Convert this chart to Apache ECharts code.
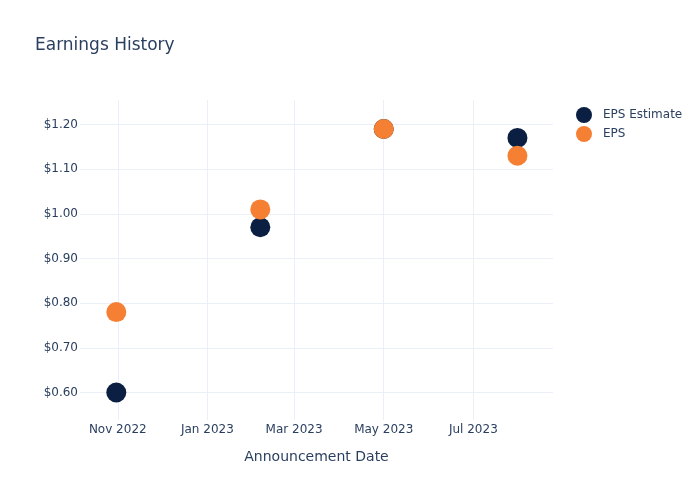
<!DOCTYPE html>
<html>
<head>
<meta charset="utf-8">
<script src="https://cdn.jsdelivr.net/npm/echarts@6/dist/echarts.min.js"></script>
<style>html,body{margin:0;padding:0;background:#fff;}#chart{width:700px;height:500px;}</style>
</head>
<body>
<div id="chart"></div>
<script>
const dates = ['2022-10-31', '2023-02-06', '2023-05-01', '2023-07-31'];
const epsEstimate = [0.60, 0.97, 1.19, 1.17];
const eps = [0.78, 1.01, 1.19, 1.13];
const xTickDates = ['2022-11-01', '2023-01-01', '2023-03-01', '2023-05-01', '2023-07-01'];
const xTickLabels = ['Nov 2022', 'Jan 2023', 'Mar 2023', 'May 2023', 'Jul 2023'];
const yTicks = [0.6, 0.7, 0.8, 0.9, 1.0, 1.1, 1.2];
const xRange = ['2022-10-06T07:00:00', '2023-08-24T05:00:00'];
const yRange = [0.5384, 1.2549];

function ts(s) { return new Date(s.length === 10 ? s + 'T00:00:00' : s).getTime(); }
const tickTs = xTickDates.map(ts);
const textColor = '#2a3f5f';
const gridColor = '#EBF0F8';
const font = '"DejaVu Sans", Verdana, sans-serif';

const chart = echarts.init(document.getElementById('chart'), null, {renderer: 'canvas'});
chart.setOption({
  backgroundColor: '#fff',
  animation: false,
  textStyle: {fontFamily: font},
  title: {
    text: 'Earnings History',
    left: 30, top: 32,
    textStyle: {fontSize: 17, fontWeight: 'normal', color: textColor, fontFamily: font}
  },
  legend: {
    orient: 'vertical',
    left: 571, top: 102,
    itemWidth: 28, itemHeight: 16, itemGap: 3,
    icon: 'circle',
    textStyle: {fontSize: 12, color: textColor, fontFamily: font},
    data: ['EPS Estimate', 'EPS']
  },
  grid: {left: 80, right: 147, top: 100, bottom: 80, containLabel: false},
  xAxis: {
    type: 'value',
    min: ts(xRange[0]), max: ts(xRange[1]),
    name: 'Announcement Date',
    nameLocation: 'middle',
    nameGap: 30,
    nameTextStyle: {fontSize: 14, color: textColor, fontFamily: font},
    axisLine: {show: false},
    axisTick: {show: false, customValues: tickTs},
    axisLabel: {
      customValues: tickTs,
      margin: 4,
      fontSize: 12, color: textColor, fontFamily: font,
      formatter: function (v) { const i = tickTs.indexOf(v); return i >= 0 ? xTickLabels[i] : ''; }
    },
    splitLine: {show: true, lineStyle: {color: gridColor, width: 1}}
  },
  yAxis: {
    type: 'value',
    min: yRange[0], max: yRange[1],
    axisLine: {show: false},
    axisTick: {show: false, customValues: yTicks},
    axisLabel: {
      customValues: yTicks,
      margin: 2,
      fontSize: 12, color: textColor, fontFamily: font,
      formatter: function (v) { return '$' + v.toFixed(2); }
    },
    splitLine: {show: true, lineStyle: {color: gridColor, width: 1}}
  },
  series: [
    {
      name: 'EPS Estimate', type: 'scatter', symbolSize: 20,
      itemStyle: {color: '#0b1f42', opacity: 1},
      data: dates.map((d, i) => [ts(d), epsEstimate[i]])
    },
    {
      name: 'EPS', type: 'scatter', symbolSize: 20,
      itemStyle: {color: '#f58033', opacity: 1},
      data: dates.map((d, i) => [ts(d), eps[i]])
    }
  ]
});
</script>
</body>
</html>
